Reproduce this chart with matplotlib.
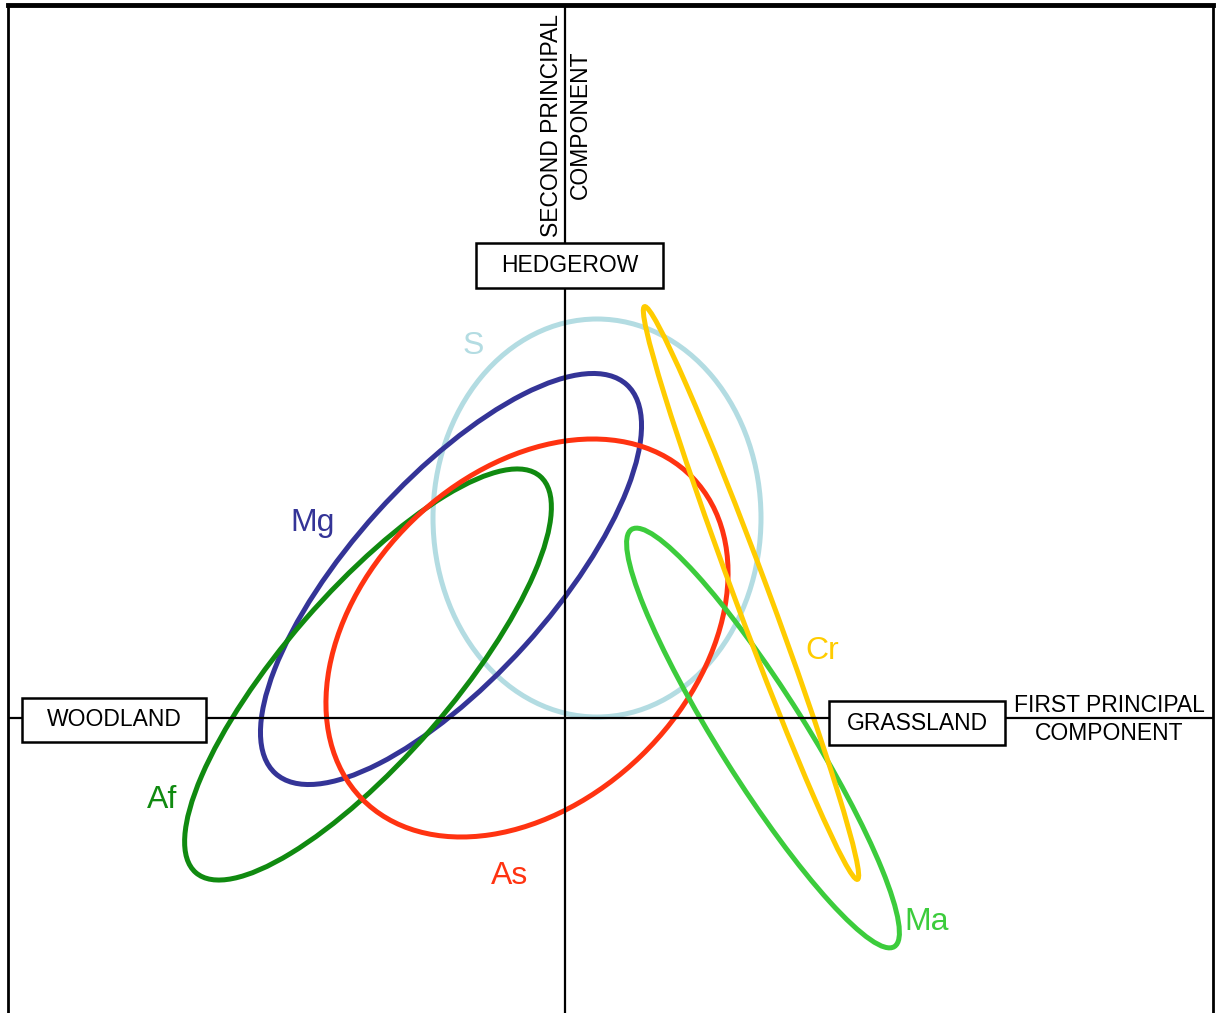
import matplotlib
matplotlib.use('Agg')
import matplotlib.pyplot as plt
from matplotlib.patches import Ellipse, Rectangle

plt.rcParams['font.family'] = ['Liberation Sans', 'DejaVu Sans']

# Ellipses in principal component scores (PC1, PC2)
groups = ['S', 'Mg', 'Af', 'As', 'Ma', 'Cr']
centre_x = [0.32, -1.14, -1.97, -0.38, 1.98, 1.86]
centre_y = [2.00, 1.39, 0.435, 0.80, -0.20, 1.25]
widths = [3.28, 5.24, 5.25, 4.61, 4.93, 6.11]
heights = [3.98, 1.99, 1.67, 3.28, 0.87, 0.34]
angles = [0.0, 47.9, 49.0, 44.1, -57.8, -69.6]
colours = ['#b3dce2', '#343497', '#108a10', '#ff3311', '#3ccc3c', '#ffcc00']

# group label positions
label_x = [-0.92, -2.52, -4.03, -0.55, 3.62, 2.57]
label_y = [3.72, 1.95, -0.82, -1.58, -2.04, 0.67]

# habitat boxes at the ends of the axes
habitats = ['HEDGEROW', 'WOODLAND', 'GRASSLAND']
hab_x = [0.045, -4.51, 3.52]
hab_y = [4.525, -0.02, -0.05]
hab_w = [1.87, 1.84, 1.76]
hab_h = [0.45, 0.44, 0.44]

W, H = 1216, 1013
fig = plt.figure(figsize=(W / 100, H / 100), dpi=100)
ax = fig.add_axes([8 / W, 0, (1213 - 8) / W, 1 - 5 / H])
ax.set_xlim(-5.57, 6.48)
ax.set_ylim(-2.95, 7.13)
ax.set_xticks([])
ax.set_yticks([])
ax.spines['bottom'].set_visible(False)
ax.spines['top'].set_linewidth(3.5)
ax.spines['left'].set_linewidth(2)
ax.spines['right'].set_linewidth(2)

ax.axhline(0, color='black', lw=1.6, zorder=3)
ax.axvline(0, color='black', lw=1.6, zorder=3)

for i, g in enumerate(groups):
    e = Ellipse((centre_x[i], centre_y[i]), widths[i], heights[i], angle=angles[i],
                fill=False, edgecolor=colours[i], lw=3.6, zorder=2)
    ax.add_patch(e)
    ax.text(label_x[i], label_y[i], g, color=colours[i], fontsize=23,
            ha='center', va='center', zorder=5)

for i, h in enumerate(habitats):
    r = Rectangle((hab_x[i] - hab_w[i] / 2, hab_y[i] - hab_h[i] / 2), hab_w[i], hab_h[i],
                  facecolor='white', edgecolor='black', lw=1.8, zorder=4)
    ax.add_patch(r)
    ax.text(hab_x[i], hab_y[i], h, fontsize=16.5, ha='center', va='center', zorder=5)

# axis titles
ax.text(-0.13, 5.93, 'SECOND PRINCIPAL', rotation=90, fontsize=16.5,
        ha='center', va='center', zorder=5)
ax.text(0.15, 5.93, 'COMPONENT', rotation=90, fontsize=16.5,
        ha='center', va='center', zorder=5)
ax.text(5.44, 0.12, 'FIRST PRINCIPAL', fontsize=16.5, ha='center', va='center', zorder=5)
ax.text(5.44, -0.15, 'COMPONENT', fontsize=16.5, ha='center', va='center', zorder=5)

fig.savefig('out.png', dpi=100, facecolor='white')
